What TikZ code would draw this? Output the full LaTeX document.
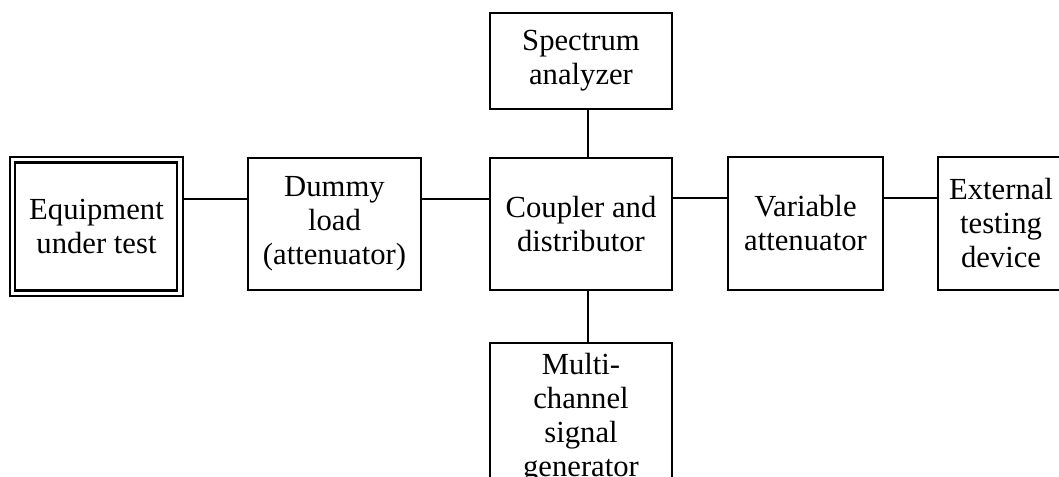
\documentclass[tikz,border=0pt]{standalone}
\usepackage{fontspec}
\setmainfont{Liberation Serif}
\begin{document}
\begin{tikzpicture}[x=0.75pt,y=-0.75pt,
  box/.style={draw=black,line width=2.2pt,outer sep=0pt,inner sep=0pt,align=center,
    font=\fontsize{23}{25.5}\selectfont},
  wire/.style={line width=1.5pt},
  wirebold/.style={line width=2pt}]
\useasboundingbox (0,0) rectangle (1059,477);
\clip (0,0) rectangle (1059,477);
\node[box,minimum width=173*0.75pt,minimum height=139*0.75pt] (eq) at (96.5,226.5) {Equipment\\under test};
\draw[line width=1.8pt] ([shift={(5,5.5)}]eq.north west) rectangle ([shift={(-6,-5.5)}]eq.south east);
\node[box,minimum width=173*0.75pt,minimum height=132*0.75pt] (dummy) at (334.5,224) {Dummy\\load\\(attenuator)};
\node[box,minimum width=182*0.75pt,minimum height=132*0.75pt] (coup) at (581,224) {Coupler and\\distributor};
\node[box,minimum width=182*0.75pt,minimum height=96*0.75pt] (spec) at (581,61) {Spectrum\\analyzer};
\node[box,minimum width=155*0.75pt,minimum height=133*0.75pt] (var) at (805.5,223.5) {Variable\\attenuator};
\node[box,minimum width=126*0.75pt,minimum height=133*0.75pt] (ext) at (1001,223.5) {External\\testing\\device};
\node[box,minimum width=182*0.75pt,minimum height=150*0.75pt] (multi) at (581,418) {Multi-\\channel\\signal\\generator};
\draw[wirebold] (eq.east |- 0,199) -- (dummy.west |- 0,199);
\draw[wire] (dummy.east |- 0,199) -- (coup.west |- 0,199);
\draw[wire] (coup.east |- 0,198) -- (var.west |- 0,198);
\draw[wire] (var.east |- 0,198) -- (ext.west |- 0,198);
\draw[wire] (spec.south -| 588,0) -- (coup.north -| 588,0);
\draw[wire] (coup.south -| 588,0) -- (multi.north -| 588,0);
\end{tikzpicture}
\end{document}
